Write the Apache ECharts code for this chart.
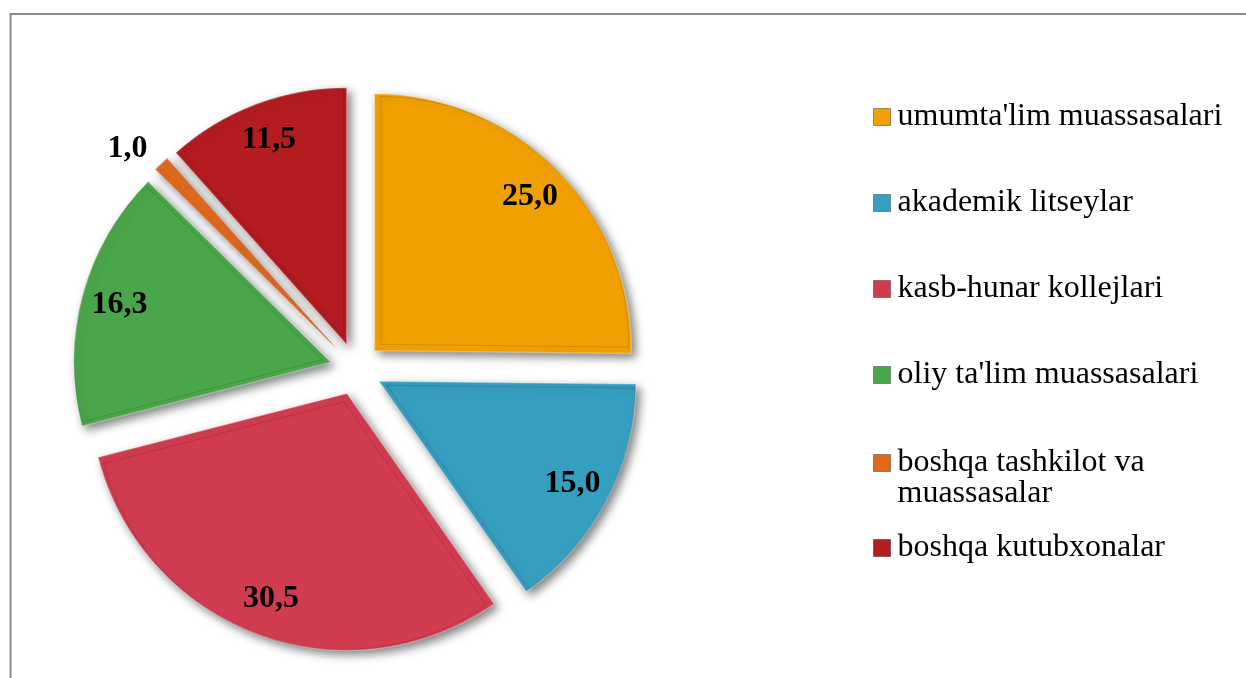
<!DOCTYPE html>
<html>
<head>
<meta charset="utf-8">
<script src="https://cdn.jsdelivr.net/npm/echarts@6/dist/echarts.min.js"></script>
<style>
  html, body { margin: 0; padding: 0; background: #fff; }
  #chart { width: 1246px; height: 678px; }
</style>
</head>
<body>
<div id="chart"></div>
<script>
// kutubxona fondi taqsimoti, %
const categories = [
  "umumta'lim muassasalari",
  'akademik litseylar',
  'kasb-hunar kollejlari',
  "oliy ta'lim muassasalari",
  'boshqa tashkilot va muassasalar',
  'boshqa kutubxonalar'
]
const values = [25.0, 15.0, 30.5, 16.3, 1.0, 11.5]

const colors = ['#F0A000', '#369EBF', '#D13C50', '#4AA64A', '#E0691E', '#B41C20']
const serif = '"Liberation Serif", "Times New Roman", serif'
const center = [356, 369]
const R = 257
const explode = 26

const fmt = v => v.toFixed(1).replace('.', ',')

const pieData = categories.map((name, i) => ({
  name,
  value: values[i],
  selected: true,
  itemStyle: {color: colors[i]}
}))

// label overlay: transparent ring so 'inside' labels sit near the rim
const labelData = categories.map((name, i) => {
  const item = {name, value: values[i], selected: true}
  if (values[i] < 5) {
    item.label = {position: 'outside', distanceToLabelLine: 0}
    item.labelLine = {show: false, length: 20, length2: 0}
  }
  return item
})

// legend icon centres (y), one legend per item
const legendY = [115, 201, 287, 373, 461, 546]
const lineH = 31
const legends = categories.map((name, i) => {
  const twoLine = name.indexOf(' va ') > 0
  return {
    data: [name],
    left: 873,
    top: twoLine ? legendY[i] - lineH * 1.5 : legendY[i] - lineH / 2,
    orient: 'vertical',
    padding: 0,
    icon: 'rect',
    itemWidth: 17,
    itemHeight: 17,
    selectedMode: false,
    itemStyle: {borderColor: 'rgba(0,0,0,0.35)', borderWidth: 1},
    textStyle: {fontFamily: serif, fontSize: 32, color: '#000', lineHeight: lineH, padding: [4, 0, 0, 2]},
    formatter: n => twoLine ? '\n' + n.replace(' va ', ' va\n') : n
  }
})

const chart = echarts.init(document.getElementById('chart'))
chart.setOption({
  animation: false,
  backgroundColor: '#fff',
  graphic: [{
    type: 'rect',
    shape: {x: 10.5, y: 14, width: 1400, height: 800},
    style: {fill: 'none', stroke: '#8c8c8c', lineWidth: 2},
    silent: true
  }],
  legend: legends,
  series: [
    {
      type: 'pie',
      center,
      radius: [0, R],
      selectedMode: 'multiple',
      selectedOffset: explode,
      startAngle: 90,
      clockwise: true,
      label: {show: false},
      labelLine: {show: false},
      emphasis: {disabled: true},
      itemStyle: {
        borderColor: 'rgba(255,255,255,0.3)',
        borderWidth: 1.5,
        shadowBlur: 10,
        shadowOffsetX: 4,
        shadowOffsetY: 4,
        shadowColor: 'rgba(0,0,0,0.5)'
      },
      data: pieData
    },
    {
      // thin inset line, like the bevel edge
      type: 'pie',
      center,
      radius: [0, R - 9],
      silent: true,
      selectedMode: 'multiple',
      selectedOffset: explode + 9,
      startAngle: 90,
      label: {show: false},
      labelLine: {show: false},
      itemStyle: {color: 'transparent', borderColor: 'rgba(0,0,0,0.12)', borderWidth: 1},
      data: categories.map((name, i) => ({name, value: values[i], selected: true}))
    },
    {
      type: 'pie',
      center,
      radius: [R * 0.68, R],
      silent: true,
      avoidLabelOverlap: false,
      selectedMode: 'multiple',
      selectedOffset: explode,
      startAngle: 90,
      itemStyle: {color: 'transparent'},
      label: {
        show: true,
        position: 'inside',
        formatter: p => fmt(p.value),
        fontFamily: serif,
        fontWeight: 'bold',
        fontSize: 32,
        color: '#000'
      },
      labelLine: {show: false},
      data: labelData
    }
  ]
})
</script>
</body>
</html>
